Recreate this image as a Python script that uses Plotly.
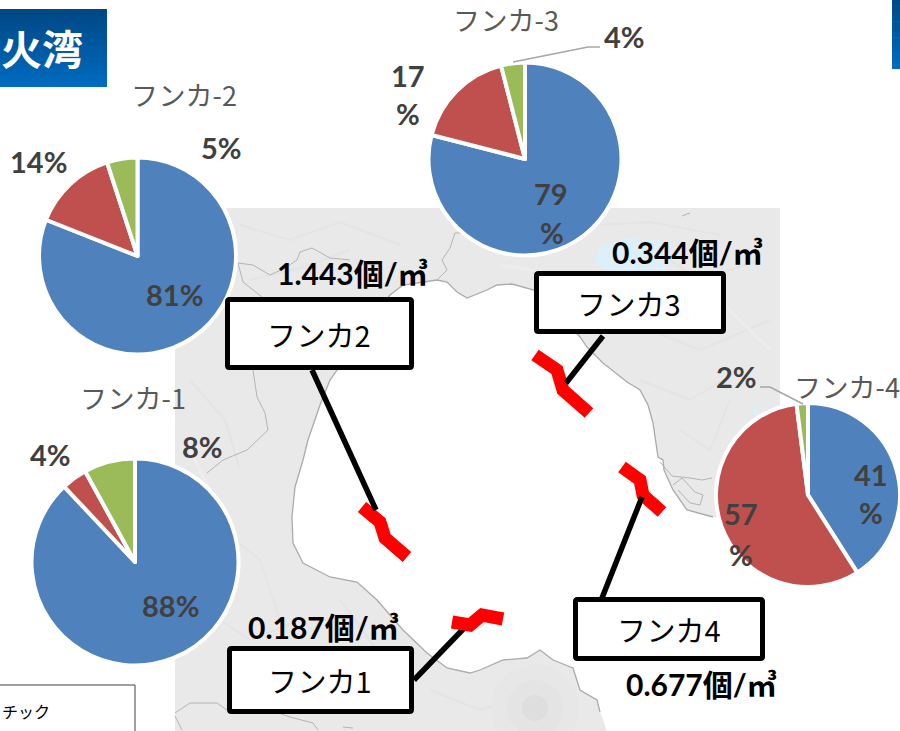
import plotly.graph_objects as go

W, H = 900, 731
CATEGORIES = ["A", "B", "C"]
COLORS = ["#4F81BD", "#C0504D", "#9BBB59"]
FUNKA_1 = [88, 4, 8]
FUNKA_2 = [81, 14, 5]
FUNKA_3 = [79, 17, 4]
FUNKA_4 = [41, 57, 2]
PIE_TITLES = ["フンカ-1", "フンカ-2", "フンカ-3", "フンカ-4"]
STATION_NAMES = ["フンカ1", "フンカ2", "フンカ3", "フンカ4"]
DENSITIES = ["0.187", "1.443", "0.344", "0.677"]

FONT = "Lato, 'Noto Sans CJK JP', sans-serif"
JP = "'Noto Sans CJK JP', sans-serif"


def px(x):
    return x / W


def py(y):
    return 1 - y / H


def path(pts, close=False):
    s = "M " + " L ".join(f"{px(x):.5f},{py(y):.5f}" for x, y in pts)
    return s + (" Z" if close else "")


shapes = []


def poly(pts, fill=None, color=None, width=1, close=False, layer="below"):
    shapes.append(dict(type="path", xref="paper", yref="paper", path=path(pts, close),
                       fillcolor=fill if fill else "rgba(0,0,0,0)",
                       line=dict(color=color if color else "rgba(0,0,0,0)", width=width if color else 0),
                       layer=layer))


def rect(x0, y0, x1, y1, fill, layer="below"):
    shapes.append(dict(type="rect", xref="paper", yref="paper", x0=px(x0), x1=px(x1), y0=py(y0), y1=py(y1),
                       fillcolor=fill, line=dict(width=0), layer=layer))


def gradient(x0, y0, x1, y1, n=13):
    a, b = (0, 73, 134), (0, 106, 190)
    for i in range(n):
        t = i / (n - 1)
        c = tuple(int(a[k] + (b[k] - a[k]) * t) for k in range(3))
        ya = y0 + (y1 - y0) * i / n
        yb = y0 + (y1 - y0) * (i + 1) / n + 0.6
        rect(x0, ya, x1, min(yb, y1), f"rgb{c}")


def box(x0, y0, x1, y1, r=2):
    s = (f"M {px(x0 + r)},{py(y0)} L {px(x1 - r)},{py(y0)} Q {px(x1)},{py(y0)} {px(x1)},{py(y0 + r)} "
         f"L {px(x1)},{py(y1 - r)} Q {px(x1)},{py(y1)} {px(x1 - r)},{py(y1)} "
         f"L {px(x0 + r)},{py(y1)} Q {px(x0)},{py(y1)} {px(x0)},{py(y1 - r)} "
         f"L {px(x0)},{py(y0 + r)} Q {px(x0)},{py(y0)} {px(x0 + r)},{py(y0)} Z")
    shapes.append(dict(type="path", xref="paper", yref="paper", path=s, fillcolor="white",
                       line=dict(color="black", width=5), layer="above"))


# base map
rect(175, 208, 780, 731, "#E9E9E9")
# faint relief
RELIEF = [
    [(240, 225), (290, 240), (340, 222), (400, 245)], [(250, 280), (300, 268), (350, 250)],
    [(190, 380), (225, 420), (240, 470)], [(210, 520), (260, 560), (280, 620)],
    [(190, 600), (250, 640), (300, 620)], [(340, 600), (370, 640), (400, 690)],
    [(430, 690), (480, 710), (540, 690)], [(640, 240), (700, 280), (760, 260)],
    [(650, 330), (700, 350), (770, 320)], [(640, 380), (690, 400), (740, 370)],
    [(680, 430), (710, 450), (730, 400)], [(600, 225), (650, 222), (720, 235)],
]
for r in RELIEF:
    poly(r, color="#E4E4E4", width=2)
poly([(190, 450), (215, 500), (205, 560)], color="#EDEDED", width=3)
poly([(660, 300), (720, 300), (770, 350)], color="#EDEDED", width=3)
poly([(500, 265), (560, 275), (530, 300)], color="#EDEDED", width=3)
# volcano shading
for rad, col in [(44, "#E7E7E7"), (28, "#E4E4E4"), (13, "#DEDEDE")]:
    shapes.append(dict(type="circle", xref="paper", yref="paper", x0=px(535 - rad), x1=px(535 + rad),
                       y0=py(708 + rad), y1=py(708 - rad), fillcolor=col, line=dict(width=0), layer="below"))
# lakes
poly([(594, 262), (600, 246), (625, 238), (660, 240), (672, 255), (665, 272), (610, 272)], fill="#DDEFF8")
poly([(752, 406), (756, 406), (760, 418), (755, 420)], fill="#DDEFF8")

# sea
COAST = [
    (303, 460), (308, 440), (320, 405), (330, 380), (337, 370), (390, 295), (403, 285), (437, 280), (447, 282),
    (457, 292), (467, 298), (487, 290), (497, 285), (512, 284), (534, 290), (570, 326), (580, 337), (587, 347),
    (603, 363), (627, 382), (640, 390), (648, 405), (653, 423), (658, 457), (663, 460), (664, 470), (673, 490),
    (687, 510), (713, 517), (720, 518), (780, 518), (780, 731), (607, 731), (604, 722), (600, 712), (597, 700),
    (580, 690), (573, 668), (553, 660), (540, 650), (527, 658), (503, 660), (480, 670), (470, 673), (447, 668),
    (427, 653), (403, 630), (377, 600), (357, 582), (330, 577), (303, 563), (293, 543), (292, 517), (295, 487),
]
poly(COAST, fill="white")
poly(COAST[:29], color="#ABABAB", width=1.3)
poly(COAST[34:] + COAST[:1], color="#ABABAB", width=1.3)
rect(780, 208, 900, 731, "white")
rect(0, 200, 175, 731, "white")
# inland borders
BORDERS = [
    [(238, 263), (253, 265), (270, 275), (285, 268), (297, 260), (300, 252), (312, 248), (330, 258), (350, 260)],
    [(437, 280), (447, 270), (442, 260), (450, 248), (455, 233), (465, 233)],
    [(238, 263), (243, 282), (262, 297)],
    [(253, 370), (257, 397), (265, 413), (268, 430), (247, 450), (223, 460), (207, 473)],
    [(175, 713), (190, 703), (217, 703), (227, 710), (270, 710), (290, 717), (313, 723), (318, 730)],
    [(343, 727), (353, 728)], [(175, 716), (182, 730)],
    [(660, 462), (672, 476), (690, 478), (702, 480), (712, 478)],
    [(673, 485), (682, 478), (695, 492), (703, 495), (700, 505), (690, 503), (678, 490)],
    [(682, 216), (690, 213)],
]
for b in BORDERS:
    poly(b, color="#B4B4B4", width=1)

# station tracks
TRACKS = {
    0: [(452, 622), (470, 625), (482, 615), (503, 619)],
    1: [(362, 507), (380, 522), (385, 538), (407, 557)],
    2: [(535, 355), (557, 370), (563, 390), (589, 413)],
    3: [(622, 467), (640, 480), (643, 495), (662, 512)],
}
LEADERS = {
    0: [(414, 680), (470, 622)],
    1: [(312, 370), (376, 510)],
    2: [(603, 336), (566, 383)],
    3: [(602, 598), (642, 497)],
}
poly(LEADERS[0], color="black", width=5.5, layer="above")
for k in range(4):
    poly(TRACKS[k], color="#FF0000", width=13, layer="above")
for k in (1, 2, 3):
    poly(LEADERS[k], color="black", width=5.5, layer="above")

box(229.5, 648.5, 411.5, 711.5)
box(227.5, 299.5, 411.5, 367.5)
box(536.5, 273.5, 723.5, 331.5)
box(575.5, 599.5, 762.5, 658.5)

# pie leader lines
poly([(513, 62), (588, 47), (600, 47)], color="#A6A6A6", width=1.5, layer="above")
poly([(760, 387), (770, 387), (803, 404)], color="#A6A6A6", width=1.5, layer="above")

# title bars
gradient(0, 9, 107, 87)
gradient(892, 0, 900, 69)
# legend box
poly([(0, 685), (135, 685), (135, 731)], color="#404040", width=1, layer="above")


def pie(vals, cx, cy, r):
    return go.Pie(labels=CATEGORIES, values=vals, sort=False, direction="clockwise", rotation=0,
                  marker=dict(colors=COLORS, line=dict(color="white", width=4)), textinfo="none",
                  hoverinfo="skip", showlegend=False,
                  domain=dict(x=[px(cx - r), px(cx + r)], y=[py(cy + r), py(cy - r)]))


fig = go.Figure([
    pie(FUNKA_1, 135, 562, 103.5),
    pie(FUNKA_2, 137.5, 256, 98.5),
    pie(FUNKA_3, 525, 159, 96.5),
    pie(FUNKA_4, 808, 495, 92),
])

ann = []


def text(x, y, s, size, color="#404040", bold=False, anchor="center", family=FONT):
    ann.append(dict(xref="paper", yref="paper", x=px(x), y=py(y), text=f"<b>{s}</b>" if bold else s,
                    showarrow=False, xanchor=anchor, yanchor="middle",
                    font=dict(size=size, color=color, family=family)))


PCT = 29
text(170, 605, f"{FUNKA_1[0]}%", PCT, bold=True)
text(50, 454, f"{FUNKA_1[1]}%", PCT, bold=True)
text(202, 446, f"{FUNKA_1[2]}%", PCT, bold=True)
text(174, 294, f"{FUNKA_2[0]}%", PCT, bold=True)
text(38, 161, f"{FUNKA_2[1]}%", PCT, bold=True)
text(221, 147, f"{FUNKA_2[2]}%", PCT, bold=True)
text(551, 193, f"{FUNKA_3[0]}", PCT, bold=True)
text(552, 232, "%", PCT, bold=True)
text(408, 75, f"{FUNKA_3[1]}", PCT, bold=True)
text(408, 113, "%", PCT, bold=True)
text(624, 37, f"{FUNKA_3[2]}%", PCT, bold=True)
text(871, 474, f"{FUNKA_4[0]}", PCT, bold=True)
text(871, 512, "%", PCT, bold=True)
text(741, 513, f"{FUNKA_4[1]}", PCT, bold=True)
text(741, 554, "%", PCT, bold=True)
text(736, 376, f"{FUNKA_4[2]}%", PCT, bold=True)

TITLE_POS = [(133, 397), (184, 95), (506, 19), (847, 386)]
for (x, y), t in zip(TITLE_POS, PIE_TITLES):
    text(x, y, t, 27, color="#595959", family=JP)

NAME_POS = [(320, 680), (319, 334), (629, 303), (669, 629)]
for (x, y), t in zip(NAME_POS, STATION_NAMES):
    text(x, y, t, 29, color="black", family=JP)

DENS_POS = [(323, 627), (352, 273), (687, 252), (701, 684)]
for (x, y), t in zip(DENS_POS, DENSITIES):
    text(x, y, f"{t}個/㎥", 30, color="black", bold=True)

text(85, 47, "火湾", 41, color="white", bold=True, anchor="right", family=JP)
text(52, 711, "チック", 16, color="black", anchor="right", family=JP)

fig.update_layout(width=W, height=H, margin=dict(l=0, r=0, t=0, b=0), paper_bgcolor="white",
                  plot_bgcolor="white", shapes=shapes, annotations=ann, showlegend=False)
fig.write_html("out.html", config=dict(displayModeBar=False),
               post_script="document.body.style.margin='0';document.body.style.overflow='hidden';")
